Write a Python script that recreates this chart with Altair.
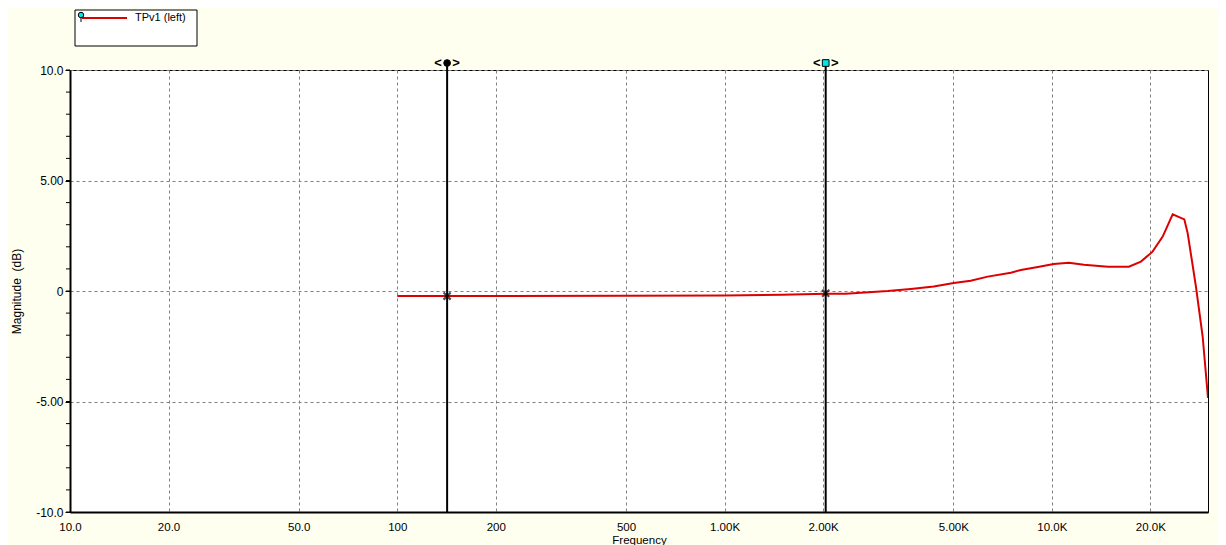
import altair as alt
import pandas as pd

# ---- data ----
freq = [100, 200, 500, 1000, 1500, 2037, 2344, 3152, 3707, 4357, 5015, 5650, 6370,
        7494, 8040, 9060, 10140, 11270, 12530, 14840, 17190, 18710, 20310, 21810,
        23400, 25400, 26000, 27560, 28900, 30000]
mag = [-0.23, -0.23, -0.22, -0.20, -0.17, -0.12, -0.12, 0.00, 0.09, 0.20, 0.36, 0.46, 0.65,
       0.83, 0.95, 1.09, 1.22, 1.28, 1.19, 1.10, 1.10, 1.33, 1.78, 2.46,
       3.47, 3.24, 2.62, 0.20, -2.07, -4.84]

x_ticks = [10, 20, 50, 100, 200, 500, 1000, 2000, 5000, 10000, 20000]
x_tick_labels = ["10.0", "20.0", "50.0", "100", "200", "500", "1.00K", "2.00K", "5.00K", "10.0K", "20.0K"]
y_ticks = [-10, -5, 0, 5, 10]
y_tick_labels = ["-10.0", "-5.00", "0", "5.00", "10.0"]
y_minor = list(range(-10, 11))

cursor_freq = [142, 2037]
cursor_mag = [-0.23, -0.10]
cursor_shape = ["circle", "square"]
cursor_fill = ["#000000", "#00e5e5"]

series_name = "TPv1 (left)"

FONT = "Liberation Sans"
W, H = 1138, 442


def label_expr(vals, labels):
    expr = "''"
    for v, l in reversed(list(zip(vals, labels))):
        expr = f"datum.value == {v} ? '{l}' : ({expr})"
    return expr


df = pd.DataFrame({"f": freq, "m": mag})
cur = pd.DataFrame({"f": cursor_freq, "m": cursor_mag, "shape": cursor_shape, "fill": cursor_fill})
minor = pd.DataFrame({"m": y_minor})
one = pd.DataFrame({"k": [0]})

xscale = alt.Scale(type="log", domain=[10, 30000], nice=False)
yscale = alt.Scale(domain=[-10, 10], nice=False, zero=False)

X = alt.X("f:Q", scale=xscale, title="Frequency",
          axis=alt.Axis(values=x_ticks, labelExpr=label_expr(x_ticks, x_tick_labels),
                        grid=True, gridColor="#808080", gridDash=[3, 3], gridWidth=1,
                        ticks=False, labelPadding=9, labelFlush=False, labelOverlap=False,
                        domainColor="#000000", domainWidth=2,
                        labelFont=FONT, labelFontSize=11.5, labelColor="#000000",
                        titleFont=FONT, titleFontSize=11.5, titleFontWeight="normal",
                        titleColor="#000000", titlePadding=2))
Y = alt.Y("m:Q", scale=yscale, title="Magnitude\u00a0\u00a0(dB)",
          axis=alt.Axis(values=y_ticks, labelExpr=label_expr(y_ticks, y_tick_labels),
                        grid=True, gridColor="#808080", gridDash=[3, 3], gridWidth=1,
                        ticks=True, tickSize=5, tickColor="#000000", labelPadding=2,
                        domainColor="#000000", domainWidth=2, labelOverlap=False,
                        labelFont=FONT, labelFontSize=12, labelColor="#000000",
                        titleFont=FONT, titleFontSize=12, titleFontWeight="normal",
                        titleColor="#000000", titlePadding=12))

line = alt.Chart(df).mark_line(color="#dd0000", strokeWidth=2, clip=True).encode(x=X, y=Y)

minor_ticks = alt.Chart(minor).mark_rule(color="#000000", strokeWidth=1).encode(
    y=Y, x=alt.value(-4), x2=alt.value(0),
)

cursor_rules = alt.Chart(cur).mark_rule(color="#000000", strokeWidth=2).encode(
    x=X, y=alt.value(-7), y2=alt.value(H),
)

cursor_x = alt.Chart(cur).mark_point(
    shape="M-1,-1L1,1M-1,1L1,-1", filled=False, color="#000000", strokeWidth=2.2, size=50
).encode(x=X, y=Y)

cursor_head = alt.Chart(cur).mark_point(filled=True, size=45, stroke="#000000", strokeWidth=1,
                                         opacity=1).encode(
    x=X,
    y=alt.value(-7),
    shape=alt.Shape("shape:N", scale=None),
    fill=alt.Fill("fill:N", scale=None),
)

chev_l = alt.Chart(cur).mark_text(text="<", font=FONT, fontSize=13, fontWeight="bold",
                                  color="#000000", dx=-9, baseline="middle").encode(
    x=X, y=alt.value(-7))
chev_r = alt.Chart(cur).mark_text(text=">", font=FONT, fontSize=13, fontWeight="bold",
                                  color="#000000", dx=9, baseline="middle").encode(
    x=X, y=alt.value(-7))

# legend box
leg_box = alt.Chart(one).mark_rect(fill="#ffffff", stroke="#000000", strokeWidth=1).encode(
    x=alt.value(5), x2=alt.value(127), y=alt.value(-60), y2=alt.value(-24))
leg_line = alt.Chart(one).mark_rule(color="#dd0000", strokeWidth=2).encode(
    x=alt.value(12), x2=alt.value(57), y=alt.value(-52))
leg_stem = alt.Chart(one).mark_rule(color="#000000", strokeWidth=1).encode(
    x=alt.value(11), y=alt.value(-55), y2=alt.value(-48))
leg_dot = alt.Chart(one).mark_point(filled=True, size=30, fill="#00e5e5", stroke="#000000",
                                    strokeWidth=1, opacity=1).encode(
    x=alt.value(11), y=alt.value(-55))
leg_text = alt.Chart(one).mark_text(text=series_name, font=FONT, fontSize=11, color="#000000",
                                    align="left", baseline="middle").encode(
    x=alt.value(65), y=alt.value(-52))

chart = alt.layer(
    line, minor_ticks, cursor_rules, cursor_x, cursor_head, chev_l, chev_r,
    leg_box, leg_line, leg_stem, leg_dot, leg_text,
).properties(
    width=W, height=H,
    autosize=alt.AutoSizeParams(type="none"),
    padding={"left": 62, "top": 62, "right": 10, "bottom": 34},
    background="#fffff0",
).configure_view(
    fill="#ffffff", stroke="#000000", strokeWidth=1,
)

chart.save("out.html", embed_options={"renderer": "svg", "actions": False})
